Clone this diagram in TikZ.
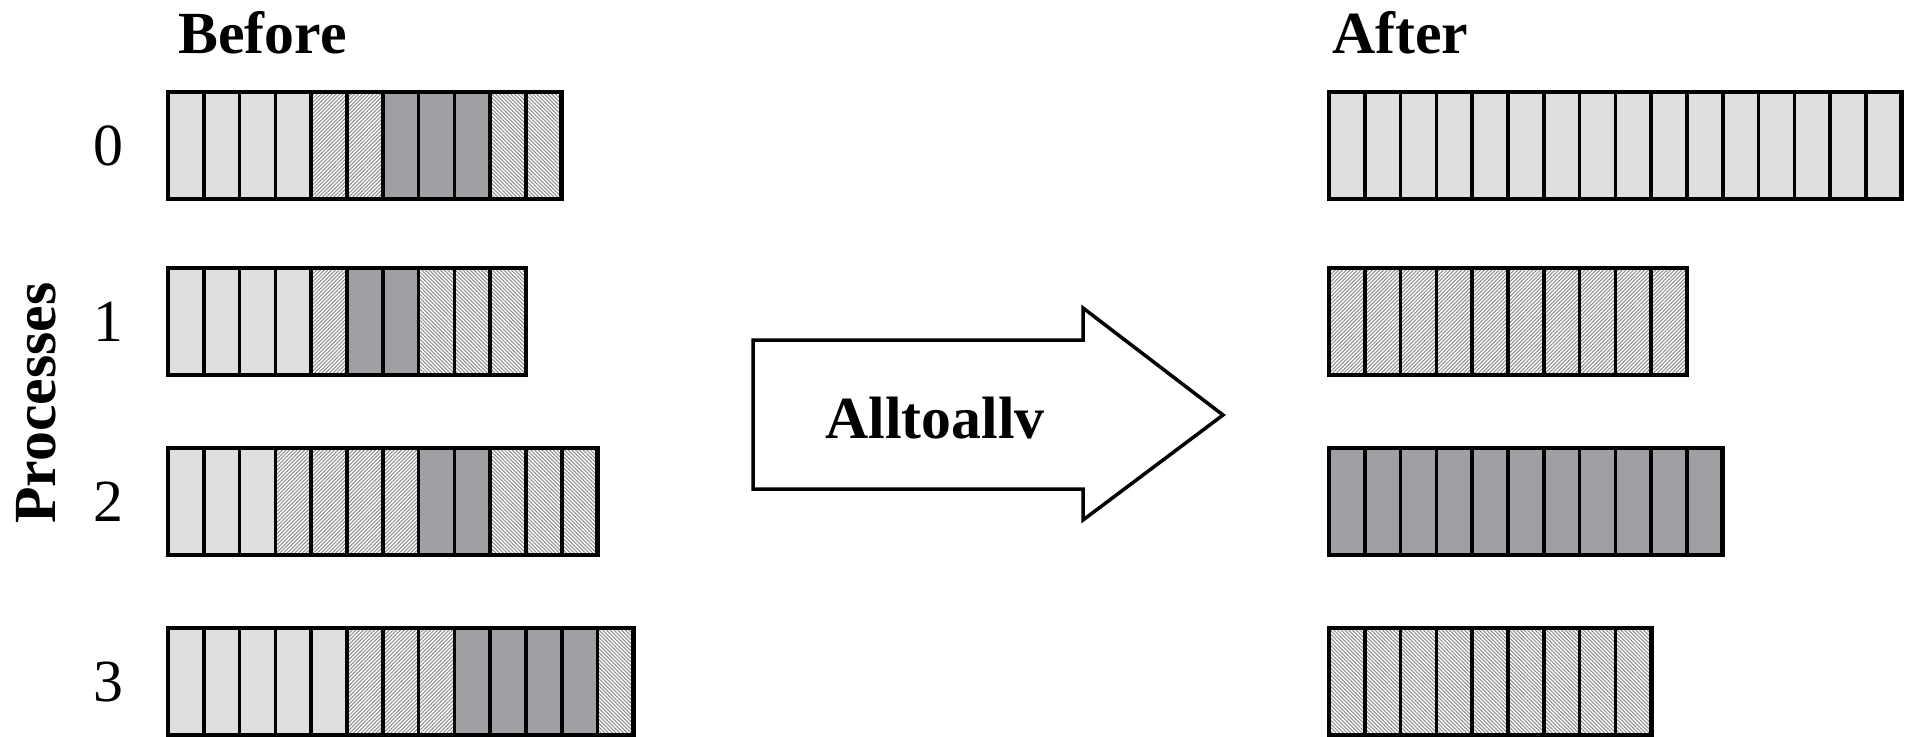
\documentclass[tikz,border=0pt]{standalone}
\usepackage{fontspec}
\setmainfont{Liberation Serif}
\usetikzlibrary{patterns.meta}

\definecolor{cellLight}{HTML}{DFDFDF}
\definecolor{cellDark}{HTML}{9F9FA4}
\definecolor{hatchGray}{HTML}{8C8C8C}

\tikzset{
	cell/.style={draw=black, line width=1.05pt},
	lt/.style={cell, fill=cellLight},
	dk/.style={cell, fill=cellDark},
	hne/.style={cell, pattern={Lines[angle=45, distance=0.75pt, line width=0.3pt]}, pattern color=hatchGray},
	hnw/.style={cell, pattern={Lines[angle=-45, distance=0.75pt, line width=0.3pt]}, pattern color=hatchGray},
	barframe/.style={draw=black, line width=1.4pt},
	head/.style={font=\fontsize{17}{20}\selectfont\bfseries},
	rank/.style={font=\fontsize{17}{20}\selectfont},
}

\def\cellw{35.8}
\def\cellh{107}

% #1 left, #2 top, #3 number of cells, #4 cell styles
\newcommand{\drawbar}[4]{%
	\foreach \s [count=\i from 0] in {#4} {
		\draw[\s] ({#1+\i*\cellw},#2) rectangle ++(\cellw,\cellh);
	}
	\draw[barframe] (#1,#2) rectangle ++({#3*\cellw},\cellh);
}

\begin{document}
\begin{tikzpicture}[x=0.01cm, y=-0.01cm]
	\useasboundingbox (0,0) rectangle (1913,736);

	\node[head, anchor=base west] (before) at (166,53) {Before};
	\node[head, anchor=base west] (after) at (1320,53) {After};
	\node[head, rotate=90] (procs) at (36,403) {Processes};

	\node[rank] (p0) at (108,146) {0};
	\node[rank] (p1) at (108,322) {1};
	\node[rank] (p2) at (108,502) {2};
	\node[rank] (p3) at (108,682) {3};

	% send buffers
	\drawbar{168}{92}{11}{lt,lt,lt,lt,hne,hne,dk,dk,dk,hnw,hnw}
	\drawbar{168}{268}{10}{lt,lt,lt,lt,hne,dk,dk,hnw,hnw,hnw}
	\drawbar{168}{448}{12}{lt,lt,lt,hne,hne,hne,hne,dk,dk,hnw,hnw,hnw}
	\drawbar{168}{628}{13}{lt,lt,lt,lt,lt,hne,hne,hne,dk,dk,dk,dk,hnw}

	% receive buffers
	\drawbar{1329}{92}{16}{lt,lt,lt,lt,lt,lt,lt,lt,lt,lt,lt,lt,lt,lt,lt,lt}
	\drawbar{1329}{268}{10}{hne,hne,hne,hne,hne,hne,hne,hne,hne,hne}
	\drawbar{1329}{448}{11}{dk,dk,dk,dk,dk,dk,dk,dk,dk,dk,dk}
	\drawbar{1329}{628}{9}{hnw,hnw,hnw,hnw,hnw,hnw,hnw,hnw,hnw}

	% block arrow
	\coordinate (T1) at (753,340);
	\coordinate (T2) at (1083,340);
	\coordinate (T3) at (1083,308);
	\coordinate (tip) at (1223,415);
	\coordinate (B3) at (1083,520);
	\coordinate (B2) at (1083,489);
	\coordinate (B1) at (753,489);
	\draw[line width=1pt, fill=white] (T1) -- (T2) -- (T3) -- (tip) -- (B3) -- (B2) -- (B1) -- cycle;
	\node[head, anchor=base] (op) at (935,438) {Alltoallv};
\end{tikzpicture}
\end{document}
